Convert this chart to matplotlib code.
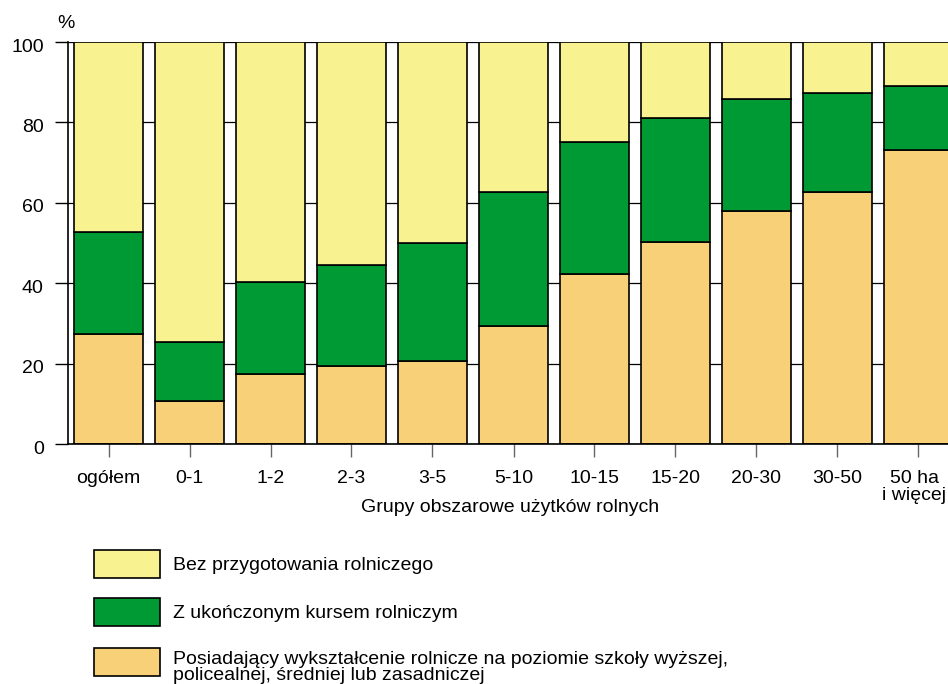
import matplotlib.pyplot as plt
from matplotlib.patches import Rectangle
from matplotlib.transforms import ScaledTranslation
import numpy as np

plt.rcParams['font.family'] = ['Liberation Sans', 'DejaVu Sans']

grupy = ['ogółem', '0-1', '1-2', '2-3', '3-5', '5-10', '10-15', '15-20',
         '20-30', '30-50', '50 ha\ni więcej']
wyksztalcenie = [27.4, 10.7, 17.4, 19.4, 20.6, 29.4, 42.3, 50.2, 58.0, 62.7, 73.1]
kurs = [25.3, 14.7, 22.9, 25.1, 29.4, 33.3, 32.8, 30.9, 27.8, 24.6, 15.9]
bez = [100 - a - b for a, b in zip(wyksztalcenie, kurs)]

etykiety = ['Bez przygotowania rolniczego',
            'Z ukończonym kursem rolniczym',
            'Posiadający wykształcenie rolnicze na poziomie szkoły wyższej,\n'
            'policealnej, średniej lub zasadniczej']
kolory = ['#F8F291', '#009A35', '#F8D078']

fig = plt.figure(figsize=(9.48, 6.84), dpi=100)
ax = fig.add_axes([68 / 948, 1 - 444 / 684, 891 / 948, 402 / 684])

x = np.arange(len(grupy))
w = 0.84
kw = dict(width=w, edgecolor='black', linewidth=1.2, zorder=3)
ax.bar(x, wyksztalcenie, color=kolory[2], **kw)
ax.bar(x, kurs, bottom=wyksztalcenie, color=kolory[1], **kw)
ax.bar(x, bez, bottom=np.array(wyksztalcenie) + np.array(kurs), color=kolory[0], **kw)

ax.set_xlim(-0.5, len(grupy) - 0.5)
ax.set_ylim(0, 100)
ax.set_yticks([0, 20, 40, 60, 80, 100])
ax.yaxis.grid(True, color='black', linewidth=0.9, zorder=0)
ax.set_axisbelow(True)

for s in ['top', 'right']:
    ax.spines[s].set_visible(False)
ax.spines['left'].set_linewidth(1.2)
ax.spines['bottom'].set_linewidth(1.2)
ax.spines['bottom'].set_zorder(4)

ax.set_xticks(x)
ax.set_xticklabels(grupy, fontsize=14, linespacing=1.0)
ax.tick_params(axis='x', length=9.5, width=1, color='#666666', pad=9)
ax.tick_params(axis='y', length=9.5, width=1, labelsize=14, pad=8)

# etykiety osi Y lekko w dol, ostatnia etykieta X lekko w lewo
for t in ax.get_yticklabels():
    t.set_transform(t.get_transform() + ScaledTranslation(0, -3 / 100, fig.dpi_scale_trans))
ost = ax.get_xticklabels()[-1]
ost.set_transform(ost.get_transform() + ScaledTranslation(-4 / 100, 0, fig.dpi_scale_trans))

fig.text(510 / 948, 1 - 508 / 684, 'Grupy obszarowe użytków rolnych',
         fontsize=14, ha='center', va='center')
fig.text(66 / 948, 1 - 23 / 684, '%', fontsize=14, ha='center', va='center')

# legenda
pozycje = [550, 598, 648]
for y0, kol, tekst in zip(pozycje, kolory, etykiety):
    fig.patches.append(Rectangle((94 / 948, 1 - (y0 + 28) / 684), 66 / 948, 28 / 684,
                                 facecolor=kol, edgecolor='black', linewidth=1.2,
                                 transform=fig.transFigure, figure=fig))
    if '\n' in tekst:
        fig.text(173 / 948, 1 - (y0 + 3) / 684, tekst, fontsize=14,
                 ha='left', va='top', linespacing=0.9)
    else:
        fig.text(173 / 948, 1 - (y0 + 16) / 684, tekst, fontsize=14,
                 ha='left', va='center')

fig.savefig('out.png', dpi=100)
